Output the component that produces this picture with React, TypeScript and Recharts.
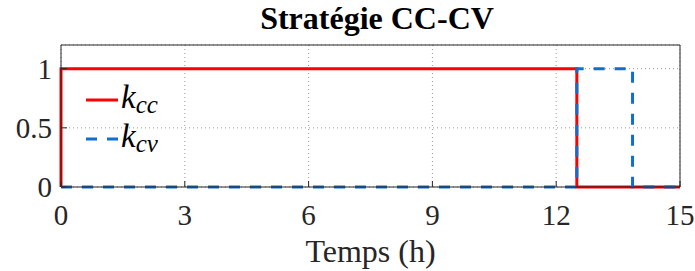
import { CartesianGrid, Line, LineChart, XAxis, YAxis } from "recharts";

// switching signals (time in h, value 0/1)
const kccTime = [0, 0, 12.5, 12.5, 15];
const kccValue = [0, 1, 1, 0, 0];
const kcvTime = [0, 12.5, 12.5, 13.85, 13.85, 15];
const kcvValue = [0, 0, 1, 1, 0, 0];

const xTicks = [0, 3, 6, 9, 12, 15];
const yTicks = [0, 0.5, 1];
const legendSubs = ["cc", "cv"];

const RED = "#ff0000";
const BLUE = "#0f6fd0";
const AXIS = "#262626";
const FONT = "'Liberation Serif', 'Times New Roman', serif";

const kcc = kccTime.map((t, i) => ({ t, k: kccValue[i] }));
const kcv = kcvTime.map((t, i) => ({ t, k: kcvValue[i] }));

const legendStyles = [
  { color: RED, dash: undefined },
  { color: BLUE, dash: "11 10" },
];

// legend drawn by hand so it sits inside the axes like the matlab one
function LegendBox() {
  return (
    <div style={{ position: "absolute", left: 85, top: 80, width: 120, height: 80, fontFamily: FONT }}>
      {legendSubs.map((sub, i) => (
        <div key={sub} style={{ position: "absolute", left: 0, top: i * 39, height: 40, width: 120 }}>
          <svg width={34} height={40} style={{ position: "absolute", left: 0, top: 0 }}>
            <line
              x1={1}
              x2={33}
              y1={20}
              y2={20}
              stroke={legendStyles[i].color}
              strokeWidth={3}
              strokeDasharray={legendStyles[i].dash}
            />
          </svg>
          <span
            style={{
              position: "absolute",
              left: 36,
              top: 1,
              fontSize: 33,
              lineHeight: "33px",
              fontStyle: "italic",
              fontFamily: FONT,
              color: "#000",
              whiteSpace: "nowrap",
            }}
          >
            k
            <span style={{ fontSize: 25, position: "relative", top: 5 }}>{sub}</span>
          </span>
        </div>
      ))}
    </div>
  );
}

export default function App() {
  return (
    <div
      style={{
        position: "absolute",
        left: 0,
        top: 0,
        width: 695,
        height: 271,
        background: "#fff",
        fontFamily: FONT,
      }}
    >
      <LineChart
        width={695}
        height={271}
        margin={{ top: 44, right: 14, bottom: 0, left: 0 }}
        style={{ fontFamily: FONT }}
      >
        <CartesianGrid stroke="#999999" strokeDasharray="1 3" />
        <XAxis
          dataKey="t"
          type="number"
          domain={[0, 15]}
          ticks={xTicks}
          interval={0}
          height={84}
          tickSize={-6}
          tickMargin={23}
          stroke={AXIS}
          tick={{ fill: AXIS, fontSize: 29, fontFamily: FONT, style: { fontFamily: FONT } }}
          label={{
            value: "Temps (h)",
            position: "insideBottom",
            offset: 9,
            fill: AXIS,
            fontSize: 32,
            fontFamily: FONT,
            style: { fontFamily: FONT },
          }}
        />
        <XAxis
          xAxisId="top"
          orientation="top"
          dataKey="t"
          type="number"
          domain={[0, 15]}
          ticks={xTicks}
          interval={0}
          height={1}
          tickSize={-6}
          tick={false}
          stroke={AXIS}
        />
        <YAxis
          type="number"
          domain={[0, 1.2]}
          ticks={yTicks}
          interval={0}
          width={61}
          tickSize={-6}
          tickMargin={15}
          stroke={AXIS}
          tick={{ fill: AXIS, fontSize: 29, fontFamily: FONT, style: { fontFamily: FONT } }}
        />
        <YAxis
          yAxisId="right"
          orientation="right"
          type="number"
          domain={[0, 1.2]}
          ticks={yTicks}
          interval={0}
          width={1}
          tickSize={-6}
          tick={false}
          stroke={AXIS}
        />
        <Line
          data={kcc}
          dataKey="k"
          type="linear"
          stroke={RED}
          strokeWidth={3}
          dot={false}
          activeDot={false}
          isAnimationActive={false}
        />
        <Line
          data={kcv}
          dataKey="k"
          type="linear"
          stroke={BLUE}
          strokeWidth={3}
          strokeDasharray="11 10"
          dot={false}
          activeDot={false}
          isAnimationActive={false}
        />
      </LineChart>
      <div
        style={{
          position: "absolute",
          left: 0,
          top: 0,
          width: 695,
          paddingLeft: 59,
          boxSizing: "border-box",
          textAlign: "center",
          fontFamily: FONT,
          fontWeight: "bold",
          fontSize: 32,
          lineHeight: "36px",
          color: "#000",
        }}
      >
        Stratégie CC-CV
      </div>
      <LegendBox />
    </div>
  );
}
